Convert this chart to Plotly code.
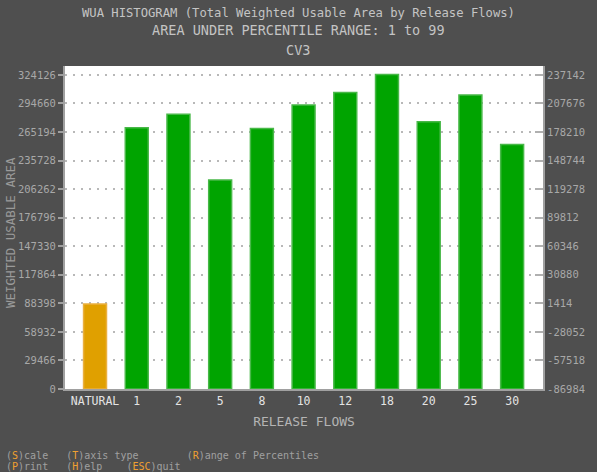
import plotly.graph_objects as go

categories = ["NATURAL", "1", "2", "5", "8", "10", "12", "18", "20", "25", "30"]
wua_values = [87700, 269700, 283500, 215600, 268700, 293100, 305900, 324500, 275900, 303400, 252200]
left_ticks = [0, 29466, 58932, 88398, 117864, 147330, 176796, 206262, 235728, 265194, 294660, 324126]
left_labels = ["0", "29466", "58932", "88398", "117864", "147330", "176796", "206262",
               "235728", "265194", "294660", "324126"]
right_labels = ["-86984", "-57518", "-28052", "1414", "30880", "60346", "89812", "119278",
                "148744", "178210", "207676", "237142"]

BG = "#4f4f4f"
TXT = "#b4b4b4"
FONT = "DejaVu Sans Mono"

colors = ["#e0a000"] + ["#00a400"] * (len(categories) - 1)
edges = ["#eab040"] + ["#48b848"] * (len(categories) - 1)

ML, MR, MT, MB = 65, 54, 66, 83
W, H = 597, 472
PW, PH = W - ML - MR, H - MT - MB

fig = go.Figure()
fig.add_trace(go.Bar(x=categories, y=wua_values, marker=dict(color=colors, line=dict(color=edges, width=1.5)),
                     width=0.55, hoverinfo="skip"))
fig.add_trace(go.Scatter(x=categories, y=wua_values, yaxis="y2", mode="markers",
                         marker=dict(opacity=0), hoverinfo="skip", showlegend=False))

yr = [0, 333300]
fig.update_layout(
    width=W, height=H,
    paper_bgcolor=BG, plot_bgcolor="white",
    margin=dict(l=ML, r=MR, t=MT, b=MB),
    showlegend=False,
    font=dict(family=FONT, color=TXT, size=10),
    xaxis=dict(type="category", range=[-0.72, 10.74], showgrid=False, ticks="", ticklen=3,
               tickfont=dict(size=11.5, color="#e4e4e4", family=FONT),
               showline=True, linecolor="#a0a0a0", linewidth=2,
               title=dict(text="RELEASE FLOWS", font=dict(size=13, color=TXT, family=FONT), standoff=10)),
    yaxis=dict(range=yr, tickvals=left_ticks, ticktext=left_labels,
               showgrid=True, gridcolor="#b8b8b8", griddash="2px,6px", gridwidth=2,
               ticks="outside", ticklen=5, tickcolor="#a0a0a0", tickwidth=2,
               tickfont=dict(size=10.5, color="#a8a8a8", family=FONT),
               showline=True, linecolor="#a0a0a0", linewidth=2, zeroline=False),
    yaxis2=dict(range=yr, overlaying="y", side="right", tickvals=left_ticks, ticktext=right_labels,
                showgrid=False, ticks="inside", ticklen=8, tickcolor="#b0b0b0", tickwidth=2,
                tickfont=dict(size=10.5, color="#a8a8a8", family=FONT),
                showline=True, linecolor="#a0a0a0", linewidth=2, zeroline=False),
)


def px_x(x):
    return (x - ML) / PW


def px_y(y):
    return (H - MB - y) / PH


ann = [
    ("WUA HISTOGRAM (Total Weighted Usable Area by Release Flows)", 13, 12.2),
    ("AREA UNDER PERCENTILE RANGE: 1 to 99", 30, 13.5),
    ("CV3", 50, 13.5),
]
for t, ypx, sz in ann:
    fig.add_annotation(text=t, x=px_x(298), y=px_y(ypx), xref="paper", yref="paper",
                       showarrow=False, xanchor="center", yanchor="middle",
                       font=dict(size=sz, color="#c4c4c4", family=FONT))

fig.add_annotation(text="WEIGHTED USABLE AREA", x=px_x(10), y=px_y(233), xref="paper", yref="paper",
                   showarrow=False, textangle=-90, xanchor="center", yanchor="middle",
                   font=dict(size=12.5, color="#9a9a9a", family=FONT))

O = "#f0a030"
foot1 = (f"(<span style='color:{O}'>S</span>)cale   (<span style='color:{O}'>T</span>)axis type        "
         f"(<span style='color:{O}'>R</span>)ange of Percentiles")
foot2 = (f"(<span style='color:{O}'>P</span>)rint   (<span style='color:{O}'>H</span>)elp    "
         f"(<span style='color:{O}'>ESC</span>)quit")
for t, ypx in [(foot1, 455.5), (foot2, 466)]:
    fig.add_annotation(text=t, x=px_x(4), y=px_y(ypx), xref="paper", yref="paper",
                       showarrow=False, xanchor="left", yanchor="middle",
                       font=dict(size=10, color="#a0a0a0", family=FONT))

fig.write_html("out.html", config={"displayModeBar": False},
               post_script="document.body.style.margin='0';")
